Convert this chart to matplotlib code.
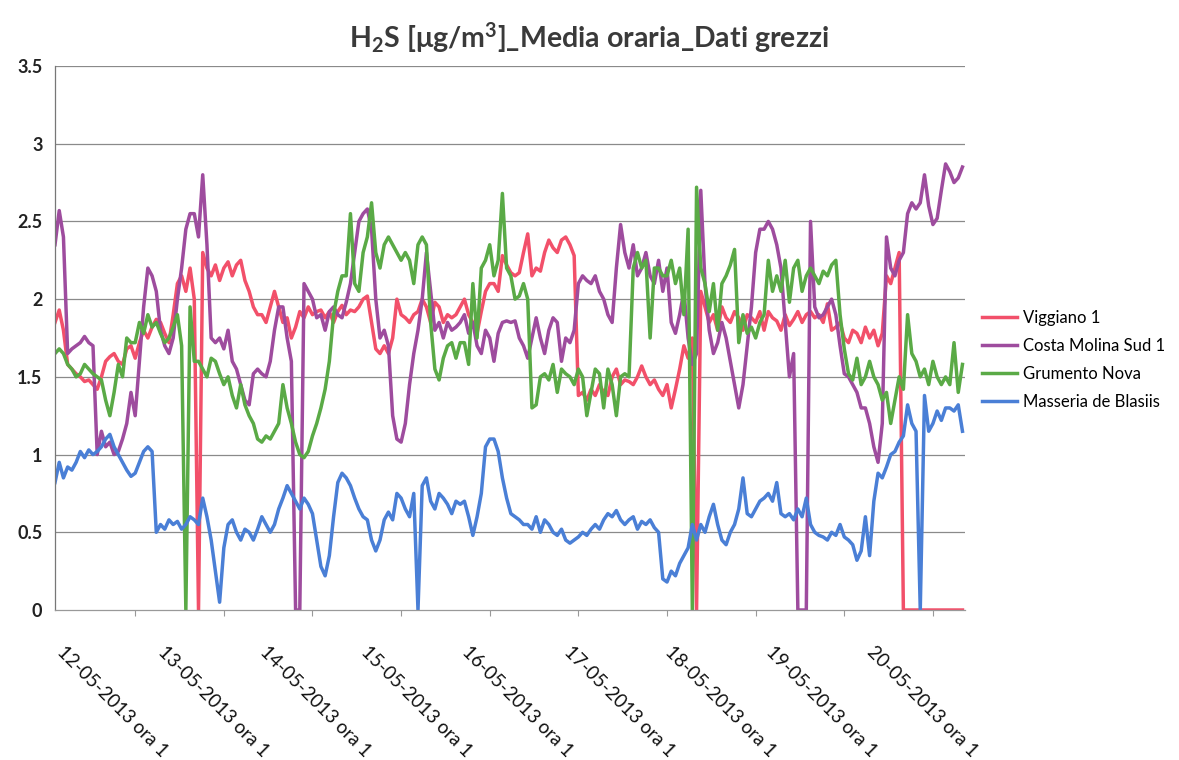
import matplotlib
matplotlib.use("Agg")
import matplotlib.pyplot as plt
import numpy as np

plt.rcParams['font.family'] = ['Lato', 'DejaVu Sans']
plt.rcParams['mathtext.fontset'] = 'custom'
plt.rcParams['mathtext.rm'] = 'Lato'
plt.rcParams['mathtext.bf'] = 'Lato:bold'
plt.rcParams['mathtext.default'] = 'bf'

day_labels = ["12-05-2013 ora 1", "13-05-2013 ora 1", "14-05-2013 ora 1",
              "15-05-2013 ora 1", "16-05-2013 ora 1", "17-05-2013 ora 1",
              "18-05-2013 ora 1", "19-05-2013 ora 1", "20-05-2013 ora 1"]

series_names = ["Viggiano 1", "Costa Molina Sud 1", "Grumento Nova", "Masseria de Blasiis"]

viggiano = [
    1.85, 1.93, 1.8, 1.58, 1.55, 1.52, 1.5, 1.47, 1.48, 1.45, 1.42, 1.5, 1.6, 1.63, 1.65, 1.6, 1.58, 1.68, 1.7, 1.62, 1.72, 1.8, 1.75, 1.82,
    1.87, 1.85, 1.78, 1.72, 1.9, 2.1, 2.15, 2.05, 2.2, 2.0, 0.0, 2.3, 2.2, 2.15, 2.22, 2.12, 2.2, 2.24, 2.15, 2.22, 2.25, 2.12, 2.05, 1.95,
    1.9, 1.9, 1.85, 1.95, 2.05, 1.95, 1.85, 1.88, 1.75, 1.82, 1.92, 1.88, 1.95, 1.9, 1.92, 1.93, 1.88, 1.92, 1.85, 1.92, 1.96, 1.9, 1.93, 1.92,
    1.95, 2.0, 2.02, 1.85, 1.68, 1.65, 1.7, 1.65, 1.75, 2.0, 1.9, 1.88, 1.85, 1.9, 1.92, 2.0, 1.95, 1.85, 1.98, 1.95, 1.85, 1.9, 1.88, 1.9,
    1.95, 2.0, 1.9, 1.85, 1.78, 1.92, 2.05, 2.1, 2.1, 2.05, 2.28, 2.22, 2.17, 2.15, 2.17, 2.3, 2.42, 2.15, 2.2, 2.18, 2.3, 2.38, 2.33, 2.3,
    2.38, 2.4, 2.35, 2.28, 1.38, 1.4, 1.35, 1.42, 1.38, 1.45, 1.4, 1.38, 1.5, 1.55, 1.45, 1.48, 1.47, 1.45, 1.5, 1.57, 1.5, 1.45, 1.48, 1.42,
    1.38, 1.45, 1.3, 1.42, 1.55, 1.7, 1.62, 1.75, 0.0, 2.05, 1.95, 1.85, 1.9, 1.8, 1.95, 1.88, 1.85, 1.92, 1.88, 1.8, 1.9, 1.88, 1.85, 1.92,
    1.8, 1.92, 1.88, 1.86, 1.8, 1.9, 1.83, 1.87, 1.92, 1.85, 1.9, 1.92, 1.88, 1.9, 1.85, 1.97, 1.8, 1.82, 1.85, 1.75, 1.72, 1.8, 1.78, 1.72,
    1.82, 1.75, 1.8, 1.7, 1.78, 2.15, 2.1, 2.2, 2.3, 0.0, 0.0, 0.0, 0.0, 0.0, 0.0, 0.0, 0.0, 0.0, 0.0, 0.0, 0.0, 0.0, 0.0, 0.0,
]

costa_molina = [
    2.35, 2.57, 2.4, 1.65, 1.68, 1.7, 1.72, 1.76, 1.72, 1.7, 1.0, 1.15, 1.05, 1.08, 1.0, 1.02, 1.1, 1.2, 1.4, 1.25, 1.6, 1.95, 2.2, 2.15,
    2.05, 1.8, 1.7, 1.65, 1.75, 2.0, 2.2, 2.45, 2.55, 2.55, 2.4, 2.8, 2.35, 1.75, 1.72, 1.75, 1.68, 1.8, 1.6, 1.55, 1.45, 1.35, 1.32, 1.52,
    1.55, 1.52, 1.5, 1.6, 1.8, 1.95, 1.95, 1.75, 1.6, 0.0, 0.0, 2.1, 2.05, 2.0, 1.88, 1.9, 1.8, 1.92, 1.95, 1.9, 1.88, 1.98, 2.1, 2.3,
    2.5, 2.55, 2.58, 2.45, 2.0, 1.75, 1.8, 1.7, 1.25, 1.1, 1.08, 1.2, 1.45, 1.65, 1.8, 2.0, 2.3, 2.05, 1.8, 1.85, 1.75, 1.85, 1.8, 1.82,
    1.85, 1.9, 1.78, 1.85, 1.7, 1.65, 1.8, 1.75, 1.6, 1.78, 1.85, 1.86, 1.85, 1.86, 1.75, 1.7, 1.62, 1.75, 1.88, 1.75, 1.65, 1.8, 1.88, 1.85,
    1.6, 1.75, 1.72, 1.8, 2.1, 2.15, 2.12, 2.1, 2.15, 2.05, 2.0, 1.9, 1.85, 2.2, 2.48, 2.3, 2.2, 2.35, 2.15, 2.2, 2.3, 2.15, 2.1, 2.25,
    2.05, 2.2, 1.85, 1.78, 1.9, 2.05, 1.75, 1.58, 1.65, 2.7, 2.1, 1.8, 1.65, 1.72, 1.85, 1.75, 1.6, 1.45, 1.3, 1.45, 1.7, 1.95, 2.3, 2.45,
    2.45, 2.5, 2.45, 2.35, 2.2, 1.85, 1.5, 1.65, 0.0, 0.0, 0.0, 2.5, 1.95, 1.88, 1.9, 1.95, 2.0, 1.9, 1.7, 1.52, 1.5, 1.45, 1.4, 1.3,
    1.3, 1.2, 1.05, 0.95, 1.2, 2.4, 2.2, 2.15, 2.25, 2.3, 2.55, 2.62, 2.58, 2.62, 2.8, 2.6, 2.48, 2.52, 2.7, 2.87, 2.82, 2.75, 2.78, 2.85,
]

grumento = [
    1.65, 1.68, 1.65, 1.58, 1.55, 1.5, 1.52, 1.58, 1.55, 1.52, 1.5, 1.48, 1.35, 1.25, 1.4, 1.58, 1.5, 1.75, 1.72, 1.72, 1.85, 1.78, 1.9, 1.82,
    1.85, 1.78, 1.72, 1.75, 1.82, 1.9, 1.7, 0.0, 1.95, 1.6, 1.6, 1.55, 1.5, 1.62, 1.6, 1.52, 1.45, 1.5, 1.38, 1.3, 1.45, 1.32, 1.25, 1.2,
    1.1, 1.08, 1.12, 1.1, 1.15, 1.2, 1.45, 1.3, 1.2, 1.08, 1.0, 0.98, 1.02, 1.12, 1.2, 1.3, 1.42, 1.6, 1.9, 2.05, 2.15, 2.15, 2.55, 2.1,
    2.05, 2.3, 2.4, 2.62, 2.3, 2.2, 2.35, 2.4, 2.35, 2.3, 2.25, 2.3, 2.25, 2.1, 2.35, 2.4, 2.35, 1.85, 1.55, 1.48, 1.62, 1.7, 1.72, 1.62,
    1.72, 1.72, 1.58, 2.1, 1.75, 2.2, 2.25, 2.35, 2.15, 2.25, 2.68, 2.2, 2.15, 2.0, 2.02, 2.1, 2.0, 1.3, 1.32, 1.5, 1.52, 1.48, 1.58, 1.4,
    1.55, 1.52, 1.5, 1.45, 1.55, 1.5, 1.25, 1.4, 1.55, 1.52, 1.3, 1.55, 1.45, 1.25, 1.5, 1.52, 1.5, 2.2, 2.3, 2.2, 2.25, 1.75, 2.2, 2.2,
    2.15, 2.15, 2.25, 2.1, 2.2, 1.9, 2.45, 0.0, 2.72, 2.2, 2.1, 1.92, 2.1, 1.8, 2.1, 2.15, 2.22, 2.32, 1.72, 1.9, 1.78, 1.82, 1.75, 1.85,
    1.9, 2.25, 2.05, 2.15, 2.05, 2.25, 1.98, 2.2, 2.25, 2.05, 2.15, 2.2, 2.15, 2.1, 2.18, 2.15, 2.22, 2.25, 1.9, 1.68, 1.52, 1.48, 1.62, 1.45,
    1.5, 1.6, 1.5, 1.45, 1.35, 1.4, 1.2, 1.35, 1.5, 1.42, 1.9, 1.65, 1.6, 1.5, 1.55, 1.45, 1.6, 1.5, 1.45, 1.5, 1.45, 1.72, 1.4, 1.58,
]

masseria = [
    0.82, 0.95, 0.85, 0.92, 0.9, 0.95, 1.02, 0.98, 1.03, 1.0, 1.02, 1.05, 1.1, 1.13, 1.05, 1.0, 0.95, 0.9, 0.86, 0.88, 0.95, 1.02, 1.05, 1.02,
    0.5, 0.55, 0.52, 0.58, 0.55, 0.57, 0.52, 0.55, 0.6, 0.58, 0.55, 0.72, 0.6, 0.45, 0.25, 0.05, 0.4, 0.55, 0.58, 0.5, 0.45, 0.52, 0.5, 0.45,
    0.52, 0.6, 0.55, 0.5, 0.55, 0.65, 0.72, 0.8, 0.75, 0.7, 0.65, 0.72, 0.68, 0.62, 0.45, 0.28, 0.22, 0.35, 0.6, 0.82, 0.88, 0.85, 0.8, 0.72,
    0.65, 0.6, 0.58, 0.45, 0.38, 0.45, 0.58, 0.63, 0.58, 0.75, 0.72, 0.65, 0.6, 0.75, 0.0, 0.8, 0.85, 0.7, 0.65, 0.75, 0.72, 0.68, 0.62, 0.7,
    0.68, 0.7, 0.6, 0.48, 0.6, 0.75, 1.05, 1.1, 1.1, 1.02, 0.85, 0.72, 0.62, 0.6, 0.58, 0.55, 0.55, 0.52, 0.6, 0.5, 0.58, 0.55, 0.5, 0.48,
    0.52, 0.45, 0.43, 0.45, 0.47, 0.5, 0.48, 0.52, 0.55, 0.52, 0.58, 0.62, 0.6, 0.64, 0.58, 0.55, 0.58, 0.6, 0.52, 0.57, 0.55, 0.58, 0.53, 0.5,
    0.2, 0.18, 0.25, 0.22, 0.3, 0.35, 0.4, 0.55, 0.45, 0.55, 0.5, 0.6, 0.68, 0.55, 0.45, 0.42, 0.5, 0.55, 0.65, 0.85, 0.62, 0.6, 0.65, 0.7,
    0.72, 0.75, 0.7, 0.82, 0.62, 0.6, 0.62, 0.58, 0.65, 0.6, 0.72, 0.55, 0.5, 0.48, 0.47, 0.45, 0.5, 0.48, 0.55, 0.47, 0.45, 0.42, 0.32, 0.38,
    0.6, 0.35, 0.7, 0.88, 0.85, 0.92, 1.0, 1.02, 1.08, 1.12, 1.32, 1.2, 1.15, 0.0, 1.38, 1.15, 1.2, 1.28, 1.22, 1.3, 1.3, 1.28, 1.32, 1.15,
]

y_ticks = [0, 0.5, 1, 1.5, 2, 2.5, 3, 3.5]
y_tick_labels = ["0", "0.5", "1", "1.5", "2", "2.5", "3", "3.5"]

colors = ["#f2506a", "#9e4c9e", "#5aaa46", "#4a7fd6"]

fig = plt.figure(figsize=(11.79, 7.6), dpi=100)
ax = fig.add_axes([55 / 1179, 1 - 610 / 760, (965 - 55) / 1179, (610 - 66) / 760])

hours = np.arange(len(viggiano))
for vals, name, col in zip([viggiano, costa_molina, grumento, masseria], series_names, colors):
    ax.plot(hours, vals, color=col, lw=2.5, label=name, solid_joinstyle='round')

ax.set_xlim(0, 215.6)
ax.set_ylim(0, 3.5)
ax.set_yticks(y_ticks)
ax.set_yticklabels(y_tick_labels, fontsize=13, fontweight='bold', color='#222222')
ax.tick_params(axis='y', length=0, pad=9)
for yv in y_ticks[1:]:
    ax.axhline(yv, color='#8a8a8a', lw=0.9, zorder=0)

# x axis: small tick marks
minor_x = np.arange(19, 216, 21)
ax.set_xticks(minor_x)
ax.set_xticklabels([])
ax.tick_params(axis='x', length=4, color='#999999', direction='out')

for i, lab in enumerate(day_labels):
    ax.text(i * 24 + 2.6, -0.06, lab, transform=ax.get_xaxis_transform(),
            rotation=-45, rotation_mode='anchor', ha='left', va='top',
            fontsize=13.5, color='#111111')

for side in ['top', 'right']:
    ax.spines[side].set_visible(False)
ax.spines['left'].set_color('#777777')
ax.spines['bottom'].set_color('#999999')
ax.spines['left'].set_linewidth(0.9)
ax.spines['bottom'].set_linewidth(0.9)

fig.text(0.5, 1 - 38 / 760, r"H$_2$S [μg/m$^3$]_Media oraria_Dati grezzi",
         ha='center', va='center', fontsize=20.5, fontweight='bold', color='#3a3a3a')

fig.legend(loc='center left', bbox_to_anchor=(982 / 1179, 1 - 360 / 760),
           frameon=False, fontsize=12, handlelength=2.1, handletextpad=0.35,
           labelspacing=0.72, borderpad=0, borderaxespad=0)

fig.savefig("out.png", dpi=100)
